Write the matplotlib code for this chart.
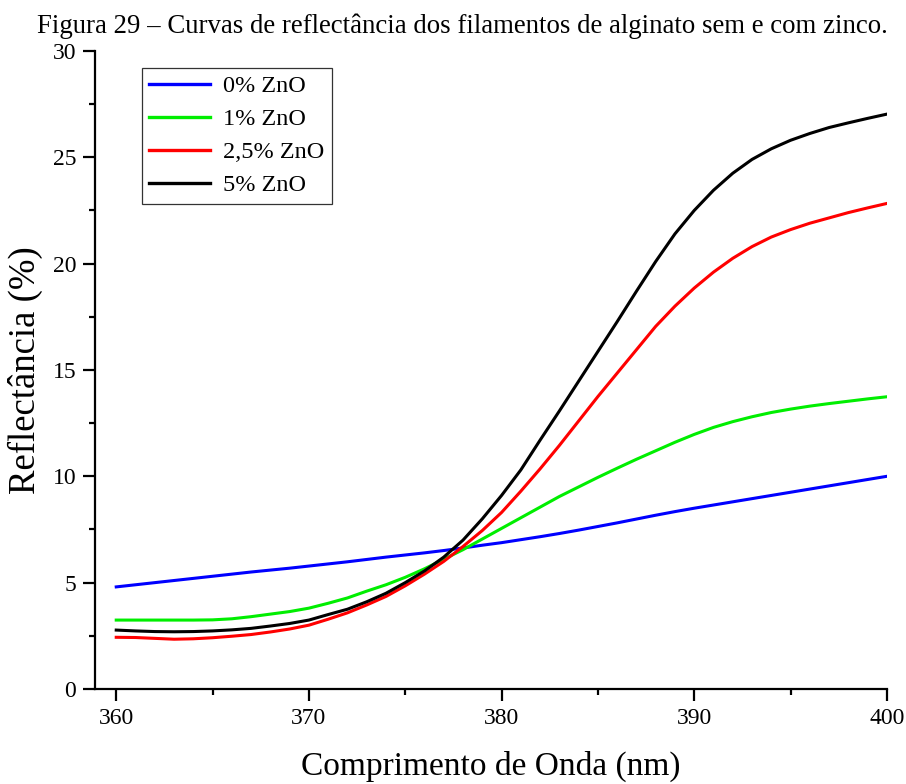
import matplotlib
matplotlib.use('Agg')
import matplotlib.pyplot as plt
from matplotlib.ticker import MultipleLocator

plt.rcParams['font.family'] = ['Liberation Serif', 'DejaVu Serif']

comprimento = list(range(360, 401))

zno_0 = [4.80, 4.90, 5.00, 5.10, 5.20, 5.30, 5.40, 5.50, 5.59, 5.68,
         5.78, 5.88, 5.98, 6.09, 6.20, 6.30, 6.40, 6.51, 6.63, 6.76,
         6.88, 7.02, 7.16, 7.31, 7.47, 7.64, 7.81, 7.99, 8.17, 8.34,
         8.50, 8.65, 8.80, 8.95, 9.10, 9.25, 9.40, 9.55, 9.70, 9.85,
         10.00]

zno_1 = [3.24, 3.24, 3.24, 3.24, 3.24, 3.25, 3.30, 3.40, 3.52, 3.64,
         3.80, 4.03, 4.28, 4.60, 4.90, 5.25, 5.65, 6.10, 6.55, 7.05,
         7.55, 8.05, 8.55, 9.05, 9.50, 9.95, 10.38, 10.80, 11.20, 11.60,
         11.97, 12.30, 12.57, 12.80, 13.00, 13.16, 13.30, 13.42, 13.53, 13.64,
         13.74]

zno_25 = [2.43, 2.42, 2.38, 2.34, 2.36, 2.41, 2.48, 2.56, 2.68, 2.82,
          3.00, 3.28, 3.58, 3.95, 4.35, 4.85, 5.40, 6.00, 6.70, 7.45,
          8.30, 9.30, 10.35, 11.45, 12.60, 13.75, 14.85, 15.95, 17.05, 18.00,
          18.85, 19.60, 20.25, 20.80, 21.25, 21.60, 21.90, 22.15, 22.40, 22.62,
          22.83]

zno_5 = [2.77, 2.73, 2.70, 2.69, 2.70, 2.73, 2.78, 2.85, 2.96, 3.08,
         3.24, 3.50, 3.75, 4.10, 4.50, 5.00, 5.55, 6.20, 7.00, 8.00,
         9.10, 10.30, 11.70, 13.07, 14.47, 15.87, 17.27, 18.70, 20.10, 21.40,
         22.50, 23.45, 24.25, 24.90, 25.40, 25.80, 26.12, 26.40, 26.62, 26.83,
         27.03]

series = [
    (zno_0, '0% ZnO', '#0000ff'),
    (zno_1, '1% ZnO', '#00ee00'),
    (zno_25, '2,5% ZnO', '#ff0000'),
    (zno_5, '5% ZnO', '#000000'),
]

fig = plt.figure(figsize=(9.06, 7.84), dpi=100)
ax = fig.add_axes([0.1049, 0.1212, 0.874, 0.8138])

for valores, nome, cor in series:
    ax.plot(comprimento, valores, color=cor, linewidth=2.2, label=nome)

ax.set_xlim(358.9, 400)
ax.set_ylim(0, 30)
ax.xaxis.set_major_locator(MultipleLocator(10))
ax.xaxis.set_minor_locator(MultipleLocator(5))
ax.yaxis.set_major_locator(MultipleLocator(5))
ax.yaxis.set_minor_locator(MultipleLocator(2.5))

for lado in ('top', 'right'):
    ax.spines[lado].set_visible(False)
for lado in ('left', 'bottom'):
    ax.spines[lado].set_linewidth(1.6)

ax.tick_params(which='major', direction='out', length=8.6, width=1.6,
               labelsize=17, pad=5)
ax.tick_params(which='minor', direction='out', length=4.5, width=1.6)

ax.set_xlabel('Comprimento de Onda (nm)', fontsize=24, labelpad=16)
ax.set_ylabel('Reflectância (%)', fontsize=26.5, labelpad=7)

fig.suptitle('Figura 29 – Curvas de reflectância dos filamentos de alginato sem e com zinco.',
             fontsize=19.3, x=0.51, y=0.983, va='top')

leg = ax.legend(loc='upper left', bbox_to_anchor=(0.059, 0.973), borderaxespad=0,
                fontsize=17.5, handlelength=2.5, handletextpad=0.55,
                labelspacing=0.45, fancybox=False, framealpha=1,
                edgecolor='#333333', borderpad=0.3)
leg.get_frame().set_linewidth(0.9)
for linha in leg.get_lines():
    linha.set_linewidth(2.4)

fig.savefig('out.png', dpi=100)
